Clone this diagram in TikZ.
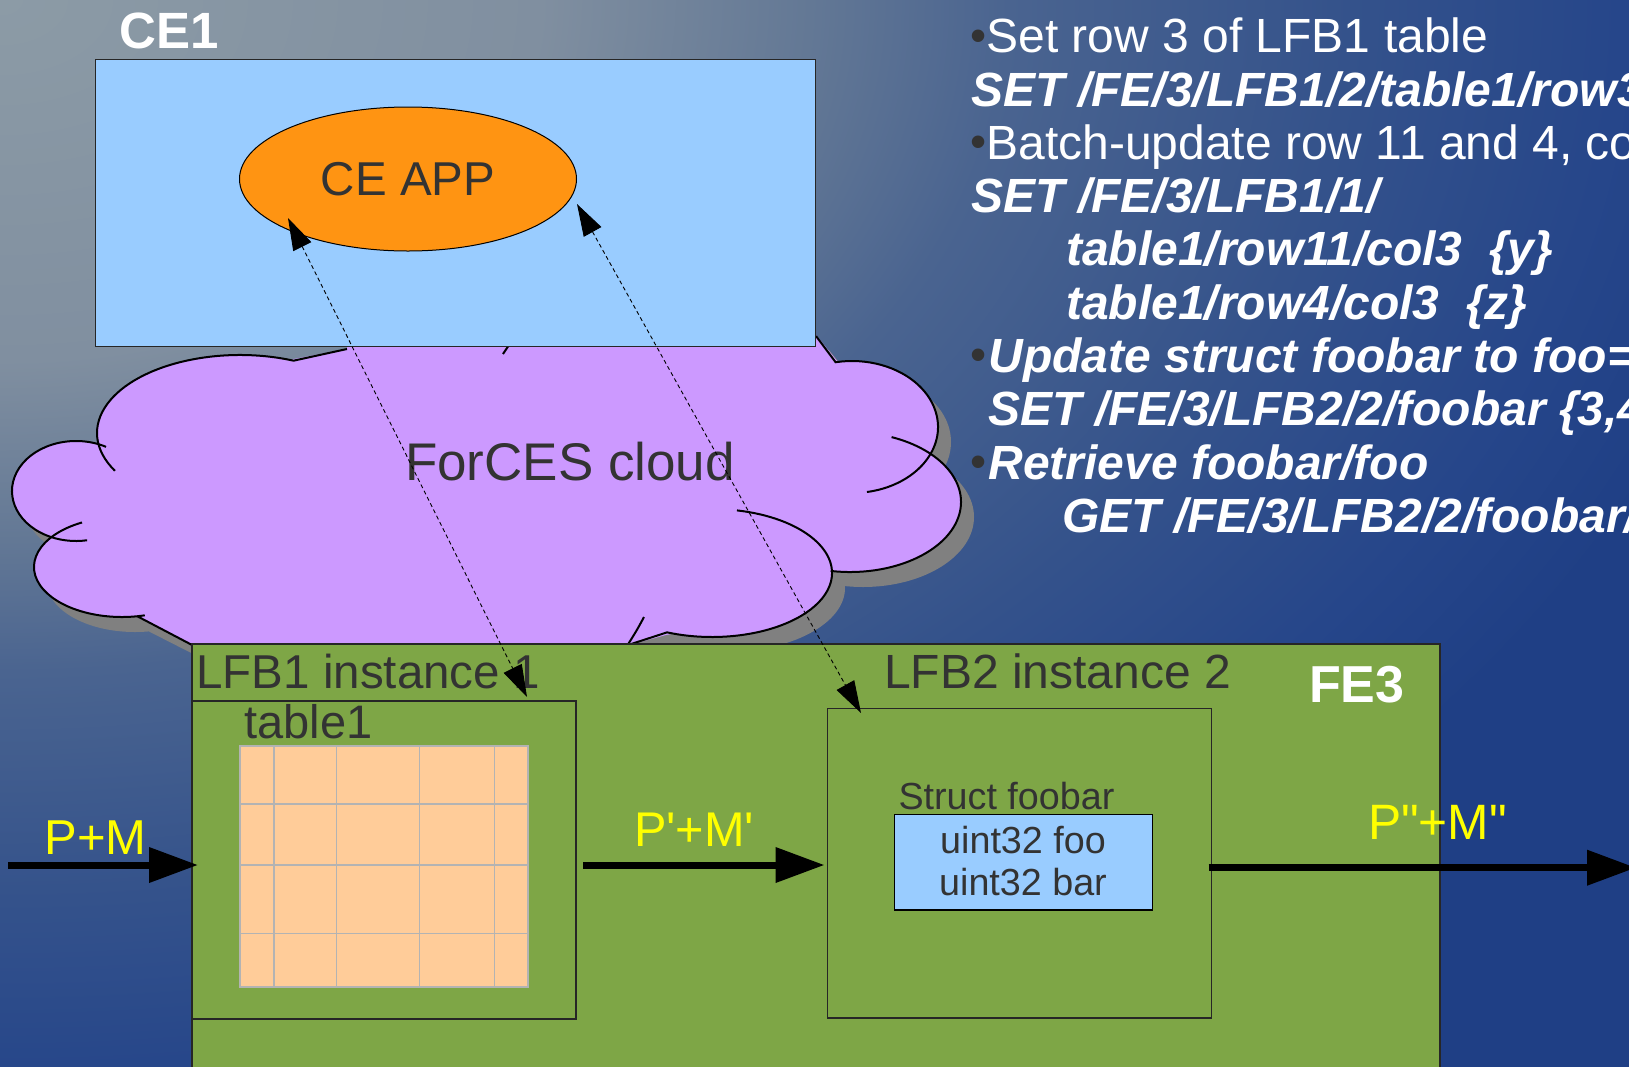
\documentclass[tikz,border=0pt]{standalone}
\usepackage{fontspec}
\setmainfont{Liberation Sans}
\newfontfamily\plainsans{Liberation Sans}[Ligatures=TeXOff]
\usetikzlibrary{arrows.meta,calc,shapes.geometric,shadings}
\definecolor{cebox}{HTML}{99CCFF}
\definecolor{ceapp}{HTML}{FF9412}
\definecolor{cloudc}{HTML}{CC99FF}
\definecolor{shadowc}{HTML}{808080}
\definecolor{fegreen}{HTML}{7EA646}
\definecolor{tablec}{HTML}{FFCC99}
\definecolor{gridc}{HTML}{B3B3B3}
\definecolor{txt}{HTML}{333333}
\definecolor{yel}{HTML}{FFFF00}
\definecolor{bg0}{HTML}{8C9BA6}
\definecolor{bg1}{HTML}{808FA0}
\definecolor{bg2}{HTML}{637895}
\definecolor{bg3}{HTML}{4A6490}
\definecolor{bg4}{HTML}{34528B}
\definecolor{bg5}{HTML}{26468A}
\definecolor{bg6}{HTML}{1F3F85}
\pgfdeclareradialshading{bgshade}{\pgfpoint{0bp}{0bp}}{color(0bp)=(bg0); color(7.5bp)=(bg1); color(11.25bp)=(bg2); color(14bp)=(bg3); color(18.75bp)=(bg4); color(22.5bp)=(bg5); color(25bp)=(bg6); color(50bp)=(bg6)}
\newcommand\fsz[1]{\fontsize{#1}{#1}\selectfont}
\newcommand\cloudfill[1]{%
\fill[#1] (240,433) ellipse[x radius=143, y radius=78];
\fill[#1] (76,491) ellipse[x radius=64, y radius=50];
\fill[#1] (122,567) ellipse[x radius=88, y radius=50];
\fill[#1] (712,573) ellipse[x radius=120, y radius=64];
\fill[#1] (850,502) ellipse[x radius=111, y radius=70];
\fill[#1] (852,427) ellipse[x radius=86, y radius=66];
\fill[#1] (294,359) -- (347,349) -- (347,335) -- (816,335) -- (838,362) -- (852,380) -- (900,450) -- (880,560) -- (830,570) -- (800,610) -- (666,635) -- (629,645) -- (194,646) -- (137,617) -- (100,590) -- (50,520) -- (110,455) -- (200,380) -- cycle;
}
\begin{document}
\begin{tikzpicture}[x=1pt,y=-1pt,
  ebox/.style={anchor=north west, inner sep=0pt, outer sep=0pt, draw=black!85, line width=1.3pt},
  tlabel/.style={anchor=base west, inner sep=0pt, outer sep=0pt, text=txt},
  wlabel/.style={anchor=base west, inner sep=0pt, outer sep=0pt, text=white, font=\fsz{48}},
  bilabel/.style={anchor=base west, inner sep=0pt, outer sep=0pt, text=white, font=\fsz{48}\bfseries\itshape},
  bul/.style={anchor=base west, inner sep=0pt, outer sep=0pt, text=txt, font=\fsz{46}},
  ylabel/.style={anchor=base west, inner sep=0pt, outer sep=0pt, text=yel},
  flowarrow/.style={line width=7pt, -{Triangle[length=49pt,width=34pt]}},
  dlink/.style={line width=0.9pt, dash pattern=on 4pt off 3pt, {Triangle[length=32pt,width=20pt]}-{Triangle[length=32pt,width=20pt]}},
  cline/.style={line width=2pt, black}]
\useasboundingbox (0,0) rectangle (1629,1066);
\begin{scope}
\clip (0,0) rectangle (1629,1066);
\fill[bg6] (0,0) rectangle (1629,1066);
\shade[shading=bgshade] (-1800,-1200) rectangle (1800,1200);

% cloud
\begin{scope}[shift={(13,15)}]\cloudfill{shadowc}\end{scope}
\cloudfill{cloudc}
\draw[cline] (347,349) -- ([shift={(-68:143 and 78)}]240,433) arc[start angle=-68, end angle=-209, x radius=143, y radius=78];
\draw[cline] ([shift={(-62:64 and 50)}]76,491) arc[start angle=-62, end angle=-280, x radius=64, y radius=50];
\draw[cline] ([shift={(-117:88 and 50)}]122,567) arc[start angle=-117, end angle=-285, x radius=88, y radius=50];
\draw[cline] ([shift={(-280:88 and 50)}]122,567) -- (194,646);
\draw[cline] ([shift={(-78:120 and 64)}]712,573) arc[start angle=-78, end angle=112, x radius=120, y radius=64] -- (625,646);
\draw[cline] (644,617) .. controls (637,630) .. (627,646);
\draw[cline] ([shift={(100:111 and 70)}]850,502) arc[start angle=100, end angle=-68, x radius=111, y radius=70];
\draw[cline] ([shift={(80:86 and 66)}]852,427) arc[start angle=80, end angle=-101, x radius=86, y radius=66] -- (816,336);
\draw[cline] (509,345) -- (503,354);
\node[tlabel, font=\fsz{53}] (cloudlbl) at (405,480) {ForCES cloud};

% CE
\node[ebox, fill=cebox, minimum width=720pt, minimum height=287pt] (ce) at (95.6,59.2) {};
\node[ellipse, draw=black, line width=1pt, fill=ceapp, minimum width=337pt, minimum height=144pt, inner sep=0pt, text=txt, font=\fsz{47.5}] (app) at (408,179) {CE APP};
\node[anchor=base west, inner sep=0pt, text=white, font=\fsz{51}\bfseries] (ce1) at (119,48.3) {CE1};

% FE
\node[ebox, fill=fegreen, minimum width=1248pt, minimum height=440pt] (fe) at (192,644) {};
\node[ebox, fill=fegreen, minimum width=384pt, minimum height=318pt] (lfb1) at (192,701) {};
\node[anchor=north west, inner sep=0pt, outer sep=0pt, fill=tablec, draw=gridc, line width=1.2pt, minimum width=288pt, minimum height=241pt] (tab) at (240,746) {};
\foreach \gx in {274,336.3,419.3,494.3} \draw[gridc, line width=1.2pt] (\gx,746) -- (\gx,987);
\foreach \gy in {804,865,933.3} \draw[gridc, line width=1.2pt] (240,\gy) -- (528,\gy);
\node[ebox, fill=fegreen, minimum width=384pt, minimum height=309.5pt] (lfb2) at (827.5,708.5) {};
\node[ebox, fill=cebox, draw=black, minimum width=258.4pt, minimum height=95.6pt] (st) at (894.4,814.4) {};
\node[tlabel, font=\fsz{47.5}] (lfb1lbl) at (196.5,688) {LFB1 instance 1};
\node[tlabel, font=\fsz{47}] (tbllbl) at (244.5,738) {table1};
\node[tlabel, font=\fsz{48}] (lfb2lbl) at (884,688) {LFB2 instance 2};
\node[anchor=base west, inner sep=0pt, text=white, font=\fsz{52}\bfseries] (fe3) at (1309,702) {FE3};
\node[tlabel, font=\fsz{37.7}] (structlbl) at (898.5,809) {Struct foobar};
\node[anchor=base, inner sep=0pt, text=txt, font=\fsz{37.7}] (foo) at (1023,853) {uint32 foo};
\node[anchor=base, inner sep=0pt, text=txt, font=\fsz{37.7}] (bar) at (1023,895) {uint32 bar};

% right text
\node[bul] (b1) at (970,51) {•};
\node[wlabel] (t1) at (986.5,52.7) {Set row 3 of LFB1 table};
\node[bilabel] (t2) at (971.5,106) {SET /FE/3/LFB1/2/table1/row3};
\node[bul] (b3) at (970,157.6) {•};
\node[wlabel] (t3) at (986.5,159.3) {Batch-update row 11 and 4, col3};
\node[bilabel] (t4) at (971.5,212.6) {SET /FE/3/LFB1/1/};
\node[bilabel] (t5) at (1066,265.9) {table1/row11/col3\ \ \{y\}};
\node[bilabel] (t6) at (1066,319.2) {table1/row4/col3\ \ \{z\}};
\node[bul] (b7) at (970,370.8) {•};
\node[bilabel] (t7) at (988.5,372.5) {Update struct foobar to foo=3};
\node[bilabel] (t8) at (988.5,425.8) {SET /FE/3/LFB2/2/foobar \{3,4\}};
\node[bul] (b9) at (970,477.4) {•};
\node[bilabel] (t9) at (988.5,479.1) {Retrieve foobar/foo};
\node[bilabel] (t10) at (1062,532.4) {GET /FE/3/LFB2/2/foobar/foo};

% flow arrows
\coordinate (inpt) at (8,865);
\coordinate (intip) at ($(lfb1.west |- inpt)+(6,0)$);
\draw[flowarrow] (inpt) -- (intip);
\coordinate (m1) at ($(lfb1.east |- inpt)+(7,0)$);
\coordinate (m2) at ($(lfb2.west |- inpt)+(-3,0)$);
\draw[flowarrow] (m1) -- (m2);
\coordinate (o1) at ($(lfb2.east)+(-3,0)$);
\coordinate (o1) at (o1 |- 0,867.7);
\coordinate (o2) at (1636,867.7);
\draw[flowarrow] (o1) -- (o2);
\node[ylabel, font=\plainsans\fsz{49}] (pm) at (44.5,854) {P+M};
\node[ylabel, font=\plainsans\fsz{48.7}] (pm2) at (634,846) {P'+M'};
\node[ylabel, font=\plainsans\fsz{49.7}] (pm3) at (1368,839) {P"+M"};

% dashed links
\coordinate (l1a) at ($(app.center)+(-120,39)$);
\coordinate (l1b) at ($(lfb1.north east)+(-49,-4)$);
\coordinate (l2a) at ($(app.center)+(169,25)$);
\coordinate (l2b) at ($(lfb2.north west)+(33.5,4.5)$);
\draw[dlink] (l1a) -- (l1b);
\draw[dlink] (l2a) -- (l2b);
\end{scope}
\end{tikzpicture}
\end{document}
